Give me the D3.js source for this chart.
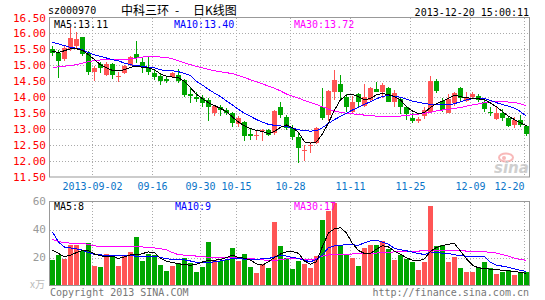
<!DOCTYPE html>
<html>
<head>
<meta charset="utf-8">
<script src="https://d3js.org/d3.v7.min.js"></script>
<style>
  body { margin: 0; background: #fff; }
  svg text { font-family: "DejaVu Sans Mono", monospace; font-size: 10px; }
</style>
</head>
<body>
<script>
// trading days shown (2013-08-22 .. 2013-12-20)
var dates = ["08-22","08-23","08-26","08-27","08-28","08-29","08-30",
  "09-02","09-03","09-04","09-05","09-06","09-09","09-10","09-11","09-12","09-13",
  "09-16","09-17","09-18","09-23","09-24","09-25","09-26","09-27","09-30",
  "10-08","10-09","10-10","10-11","10-14","10-15","10-16","10-17","10-18",
  "10-21","10-22","10-23","10-24","10-25","10-28","10-29","10-30","10-31",
  "11-01","11-04","11-05","11-06","11-07","11-08","11-11","11-12","11-13","11-14","11-15",
  "11-18","11-19","11-20","11-21","11-22","11-25","11-26","11-27","11-28","11-29",
  "12-02","12-03","12-04","12-05","12-06","12-09","12-10","12-11","12-12","12-13",
  "12-16","12-17","12-18","12-19","12-20"];

var open  = [15.51,15.40,15.20,15.50,15.61,15.90,15.39,14.79,15.03,14.70,15.03,14.62,14.75,15.01,15.35,15.11,14.96,14.75,14.67,14.57,
             14.64,14.70,14.54,14.10,14.00,13.99,13.92,13.50,13.68,13.60,13.50,13.17,13.22,12.85,12.79,12.93,12.98,12.87,13.71,13.39,
             13.03,12.74,12.32,12.46,12.56,13.71,13.45,14.18,14.42,14.02,13.55,14.09,13.73,13.90,14.26,14.18,14.30,13.84,13.94,13.71,
             13.36,13.26,13.40,13.55,14.52,13.88,13.52,13.81,14.28,13.89,14.02,14.04,13.86,13.55,13.31,13.50,13.34,13.13,13.29,13.10];
var close = [15.40,15.15,15.53,15.85,15.82,15.35,14.78,14.91,14.93,15.05,14.70,14.67,14.98,15.25,15.22,14.96,14.80,14.63,14.51,14.52,
             14.77,14.52,14.07,14.05,13.96,13.83,13.71,13.73,13.60,13.50,13.19,13.34,12.77,12.80,12.82,12.98,12.82,13.58,13.43,13.04,
             12.74,12.41,12.35,12.51,13.03,13.34,14.20,14.54,14.18,13.68,13.86,13.86,14.02,14.30,14.18,14.38,13.86,14.12,13.71,13.47,
             13.24,13.31,13.60,14.52,14.21,13.60,13.94,14.12,13.97,14.02,14.10,13.92,13.62,13.50,13.52,13.34,13.10,13.29,13.13,12.85];
var high  = [15.62,15.49,15.60,16.19,16.03,15.90,15.45,14.98,15.11,15.12,15.06,14.80,15.00,15.30,15.77,15.25,15.27,14.85,14.75,14.64,
             14.80,14.88,14.56,14.28,14.15,14.07,13.97,13.76,13.76,13.65,13.55,13.42,13.24,13.03,12.94,13.01,13.01,13.60,13.86,13.45,
             13.13,12.87,12.51,12.61,13.08,14.30,14.23,14.85,14.70,14.09,14.05,14.12,14.40,14.33,14.47,14.44,14.33,14.23,13.97,13.74,
             13.50,13.39,13.71,14.66,14.56,13.97,14.10,14.18,14.31,14.18,14.18,14.10,13.94,13.69,13.69,13.62,13.39,13.39,13.45,13.13];
var low   = [15.30,14.60,15.15,15.45,15.53,15.29,14.70,14.51,14.75,14.66,14.56,14.49,14.72,14.97,15.06,14.75,14.70,14.54,14.38,14.44,
             14.62,14.44,14.02,13.81,13.86,13.71,13.24,13.40,13.40,13.45,13.08,13.08,12.63,12.67,12.67,12.63,12.77,12.82,13.34,12.98,
             12.67,11.94,11.99,12.25,12.54,13.30,13.26,13.92,13.92,13.55,13.50,13.65,13.68,13.86,14.15,13.97,13.84,13.70,13.47,13.29,
             13.19,13.19,13.31,13.52,14.12,13.55,13.50,13.73,13.86,13.86,13.94,13.86,13.55,13.40,13.29,13.24,13.08,13.03,13.08,12.77];

// price moving averages
var ma5  = [15.44,15.40,15.46,15.52,15.52,15.47,15.33,15.18,15.02,14.92,14.84,14.84,14.86,14.94,14.97,14.94,14.92,14.86,14.73,14.66,
            14.63,14.61,14.50,14.30,14.09,13.95,13.83,13.74,13.65,13.55,13.38,13.22,13.10,13.02,12.96,12.93,12.86,12.93,13.06,13.13,
            13.05,12.90,12.60,12.56,12.60,12.85,13.20,13.60,13.92,14.07,14.09,14.02,13.92,13.96,14.08,14.12,14.08,14.02,13.92,13.70,
            13.57,13.49,13.52,13.68,13.80,13.88,13.97,14.06,14.02,13.98,13.97,13.95,13.92,13.82,13.70,13.55,13.40,13.30,13.20,13.11];
var ma10 = [15.72,15.67,15.62,15.56,15.54,15.49,15.40,15.33,15.28,15.23,15.18,15.14,15.07,15.02,14.99,14.97,14.94,14.92,14.86,14.83,
            14.83,14.80,14.75,14.68,14.50,14.38,14.25,14.13,14.02,13.88,13.76,13.62,13.50,13.40,13.30,13.22,13.15,13.12,13.10,13.08,
            13.03,12.98,12.95,12.94,12.95,13.05,13.18,13.30,13.40,13.50,13.60,13.68,13.78,13.86,13.95,14.03,14.05,14.03,14.00,13.94,
            13.88,13.84,13.80,13.78,13.78,13.77,13.76,13.80,13.86,13.92,13.95,13.97,13.96,13.90,13.83,13.77,13.72,13.66,13.55,13.40];
var ma30 = [14.94,14.95,14.97,15.00,15.02,15.07,15.12,15.15,15.17,15.18,15.18,15.18,15.19,15.20,15.23,15.26,15.27,15.27,15.26,15.25,
            15.20,15.14,15.08,15.02,14.97,14.92,14.87,14.83,14.80,14.77,14.74,14.68,14.62,14.55,14.48,14.42,14.35,14.28,14.20,14.10,
            14.03,13.97,13.90,13.84,13.77,13.70,13.63,13.56,13.53,13.50,13.48,13.46,13.44,13.42,13.41,13.40,13.40,13.40,13.41,13.43,
            13.45,13.47,13.50,13.53,13.57,13.60,13.62,13.65,13.68,13.72,13.76,13.79,13.83,13.85,13.86,13.86,13.85,13.83,13.80,13.72];

// volume (x 10k shares) and its moving averages
var volume = [18.1,21.6,18.8,28.8,28.8,24.5,30.2,13.8,13.1,22.4,21.6,13.8,20.9,24.0,34.5,17.6,22.8,21.6,14.5,10.5,
              13.8,16.2,19.8,16.2,9.8,13.3,31.2,18.1,17.4,18.1,26.9,17.6,22.4,13.3,9.0,15.2,12.6,45.5,28.3,19.3,
              11.6,17.6,15.2,12.8,20.9,46.6,53.3,58.6,28.3,21.6,19.8,13.8,27.1,28.6,28.8,31.6,26.4,18.1,21.6,18.6,
              16.9,10.9,16.9,56.9,28.1,28.8,16.9,20.4,12.6,9.7,9.7,13.3,16.9,12.4,8.1,9.7,11.3,7.6,9.3,9.3];
var vma5  = [25.2,22.9,20.5,21.7,23.5,25.0,24.8,22.5,21.2,20.5,21.0,19.3,20.5,22.0,21.8,22.8,24.0,23.5,19.5,17.2,
             16.5,15.6,14.8,14.5,15.2,16.8,18.0,18.1,18.5,20.0,21.7,20.0,19.5,18.0,15.5,14.5,17.0,20.0,22.5,24.0,
             24.3,23.0,17.5,15.2,17.0,28.0,37.5,40.5,41.2,37.5,30.0,25.0,22.9,22.9,26.0,28.5,27.5,24.5,22.3,19.8,
             18.0,17.6,19.0,24.5,27.2,28.5,29.5,30.0,24.5,19.0,14.5,12.6,12.1,11.7,11.3,10.9,10.5,10.0,9.3,8.6];
var vma10 = [38.3,31.0,27.5,26.8,26.2,25.2,23.5,22.2,21.8,21.7,21.7,21.7,21.5,21.2,21.0,21.0,21.0,20.7,20.2,19.0,
             18.8,18.6,18.3,17.5,16.5,16.2,16.3,16.9,17.6,18.5,19.3,19.2,18.8,18.8,18.8,19.0,19.2,20.5,21.5,21.0,
             20.0,19.3,18.0,17.0,18.5,22.0,27.0,28.3,28.6,29.3,29.0,28.8,30.5,31.9,32.3,31.0,29.5,26.5,25.5,24.8,
             23.8,22.9,22.1,24.0,23.5,23.1,22.9,22.0,21.3,21.0,21.0,21.0,20.5,16.5,14.5,13.8,13.0,11.8,10.8,10.0];
var vma30 = [32.9,31.5,30.6,30.3,30.1,30.0,29.3,28.3,28.0,27.8,27.6,27.8,28.0,28.1,27.8,27.5,27.1,26.8,26.2,25.5,
             23.5,22.0,21.7,21.4,21.0,20.6,20.2,19.8,19.8,19.8,19.8,19.6,19.4,19.2,18.8,18.3,17.9,17.8,18.5,19.0,
             19.2,19.3,18.8,18.3,19.3,21.0,21.8,22.4,22.4,22.4,22.5,22.7,22.9,23.0,23.2,23.3,23.6,24.0,24.1,24.3,
             24.5,24.6,24.8,25.0,25.2,25.3,25.2,25.0,24.8,24.6,24.4,24.2,24.0,23.8,23.2,22.0,21.0,19.5,18.6,18.0];

// axis ticks
var tickDates  = ["09-02","09-16","09-30","10-15","10-28","11-11","11-25","12-09","12-20"];
var tickLabels = ["2013-09-02","09-16","09-30","10-15","10-28","11-11","11-25","12-09","12-20"];
var priceTicks = [16.5,16,15.5,15,14.5,14,13.5,13,12.5,12,11.5];
var volTicks   = [60,40,20];

var red = "#ff5555", green = "#00a600";

var svg = d3.select("body").append("svg")
  .attr("width", 545)
  .attr("height", 300);

// scales
var x = d3.scaleBand().domain(dates).range([50, 530]);
var yP = d3.scaleLinear().domain([11.5, 16.5]).range([177, 17.5]);
var yV = d3.scaleLinear().domain([0, 60]).range([285.5, 201.5]);

// header
svg.append("text").attr("x", 48).attr("y", 14).text("sz000970");
var cjk = function(sel) {
  return sel.style("font-family", "'Noto Sans CJK SC'").style("font-size", "12px");
};
cjk(svg.append("text").attr("x", 121).attr("y", 14.5)).text("中科三环");
cjk(svg.append("text").attr("x", 175).attr("y", 14.5)).text("-");
cjk(svg.append("text").attr("x", 193).attr("y", 14.5)).text("日K线图");
svg.append("text").attr("x", 529).attr("y", 15.5).attr("text-anchor", "end")
  .text("2013-12-20 15:00:11");

// gridlines - price panel
svg.append("g").selectAll("line")
  .data(priceTicks.slice(1, -1))
  .enter().append("line")
  .attr("x1", 50).attr("x2", 529)
  .attr("y1", function(d) { return Math.round(yP(d)) + 0.5; })
  .attr("y2", function(d) { return Math.round(yP(d)) + 0.5; })
  .attr("stroke", "#aaa").attr("stroke-dasharray", "1,2");

// gridlines - volume panel
svg.append("g").selectAll("line")
  .data([40, 20])
  .enter().append("line")
  .attr("x1", 50).attr("x2", 529)
  .attr("y1", function(d) { return Math.round(yV(d)) + 0.5; })
  .attr("y2", function(d) { return Math.round(yV(d)) + 0.5; })
  .attr("stroke", "#aaa").attr("stroke-dasharray", "1,2");

// vertical gridlines in both panels
[[18, 177], [202, 285]].forEach(function(r) {
  svg.append("g").selectAll("line")
    .data(tickDates)
    .enter().append("line")
    .attr("x1", function(d) { return x(d) + 0.5; })
    .attr("x2", function(d) { return x(d) + 0.5; })
    .attr("y1", r[0]).attr("y2", r[1])
    .attr("stroke", "#aaa").attr("stroke-dasharray", "1,2");
});

// y labels
svg.append("g").selectAll("text")
  .data(priceTicks)
  .enter().append("text")
  .attr("x", 46)
  .attr("y", function(d) { return yP(d) + 4; })
  .attr("text-anchor", "end")
  .style("font-size", "11px")
  .attr("fill", "#ff0000")
  .text(function(d) { return d.toFixed(2); });

svg.append("g").selectAll("text")
  .data(volTicks)
  .enter().append("text")
  .attr("x", 46)
  .attr("y", function(d) { return yV(d) + 3.5; })
  .attr("text-anchor", "end")
  .style("font-size", "11px")
  .attr("fill", "#999")
  .text(function(d) { return d; });

svg.append("text").attr("x", 30).attr("y", 288)
  .style("font-family", "'Noto Sans CJK SC'").style("font-size", "10px")
  .attr("fill", "#bbb").text("x万");

// date labels
svg.append("g").selectAll("text")
  .data(tickDates)
  .enter().append("text")
  .attr("x", function(d, i) { return x(d) + 0.5; })
  .attr("y", 189.5)
  .attr("text-anchor", function(d, i) { return i == tickDates.length - 1 ? "end" : "middle"; })
  .attr("fill", "#0a74c8")
  .text(function(d, i) { return tickLabels[i]; });

// sina watermark
var logo = svg.append("g").attr("opacity", 0.8);
logo.append("ellipse").attr("cx", 506).attr("cy", 157.5).attr("rx", 7).attr("ry", 4)
  .attr("fill", "none").attr("stroke", "#f7a8a8").attr("stroke-width", 2);
logo.append("circle").attr("cx", 504).attr("cy", 158).attr("r", 2).attr("fill", "#f7a8a8");
logo.append("text").attr("x", 494).attr("y", 173)
  .style("font-family", "'DejaVu Sans'").style("font-size", "15px")
  .style("font-style", "italic").style("font-weight", "bold")
  .attr("fill", "#c4c4c4").text("sina");

// candles
var candles = svg.append("g").attr("shape-rendering", "crispEdges");
dates.forEach(function(d, i) {
  var c = close[i] >= open[i] ? red : green;
  candles.append("line")
    .attr("x1", x(d) + 2.5).attr("x2", x(d) + 2.5)
    .attr("y1", yP(high[i])).attr("y2", yP(low[i]))
    .attr("stroke", c);
  var top = yP(Math.max(open[i], close[i]));
  var bot = yP(Math.min(open[i], close[i]));
  candles.append("rect")
    .attr("x", x(d)).attr("width", 5)
    .attr("y", top).attr("height", Math.max(1, bot - top))
    .attr("fill", c);
});

// volume bars
svg.append("g").attr("shape-rendering", "crispEdges")
  .selectAll("rect")
  .data(volume)
  .enter().append("rect")
  .attr("x", function(d, i) { return x(dates[i]); })
  .attr("width", 5)
  .attr("y", function(d) { return yV(d); })
  .attr("height", function(d) { return yV(0) - yV(d); })
  .attr("fill", function(d, i) { return close[i] >= open[i] ? red : green; });

// moving average lines
function maLine(scale) {
  return d3.line()
    .x(function(d, i) { return x(dates[i]) + 2.5; })
    .y(function(d) { return scale(d); });
}
[[ma30, "#ff00ff"], [ma10, "#0000ff"], [ma5, "#000"]].forEach(function(m) {
  svg.append("path").attr("d", maLine(yP)(m[0]))
    .attr("fill", "none").attr("stroke", m[1]).attr("stroke-width", 1)
    .attr("shape-rendering", "crispEdges");
});
[[vma30, "#ff00ff"], [vma10, "#0000ff"], [vma5, "#000"]].forEach(function(m) {
  svg.append("path").attr("d", maLine(yV)(m[0]))
    .attr("fill", "none").attr("stroke", m[1]).attr("stroke-width", 1)
    .attr("shape-rendering", "crispEdges");
});

// frames
svg.append("rect").attr("x", 49.5).attr("y", 17.5).attr("width", 480).attr("height", 159.5)
  .attr("fill", "none").attr("stroke", "#999");
svg.append("rect").attr("x", 49.5).attr("y", 201.5).attr("width", 480).attr("height", 84)
  .attr("fill", "none").attr("stroke", "#999");

// legends
var legP = [["MA5:13.11", "#000", 54], ["MA10:13.40", "#0000ff", 174], ["MA30:13.72", "#ff00ff", 294]];
legP.forEach(function(l) {
  svg.append("text").attr("x", l[2]).attr("y", 28).attr("fill", l[1]).text(l[0]);
});
var legV = [["MA5:8", "#000", 54], ["MA10:9", "#0000ff", 175], ["MA30:17", "#ff00ff", 294]];
legV.forEach(function(l) {
  svg.append("text").attr("x", l[2]).attr("y", 210).attr("fill", l[1]).text(l[0]);
});

// footer
svg.append("text").attr("x", 50).attr("y", 295.5).attr("fill", "#777")
  .text("Copyright 2013 SINA.COM");
svg.append("text").attr("x", 529).attr("y", 295.5).attr("text-anchor", "end").attr("fill", "#777")
  .text("http://finance.sina.com.cn");
</script>
</body>
</html>
